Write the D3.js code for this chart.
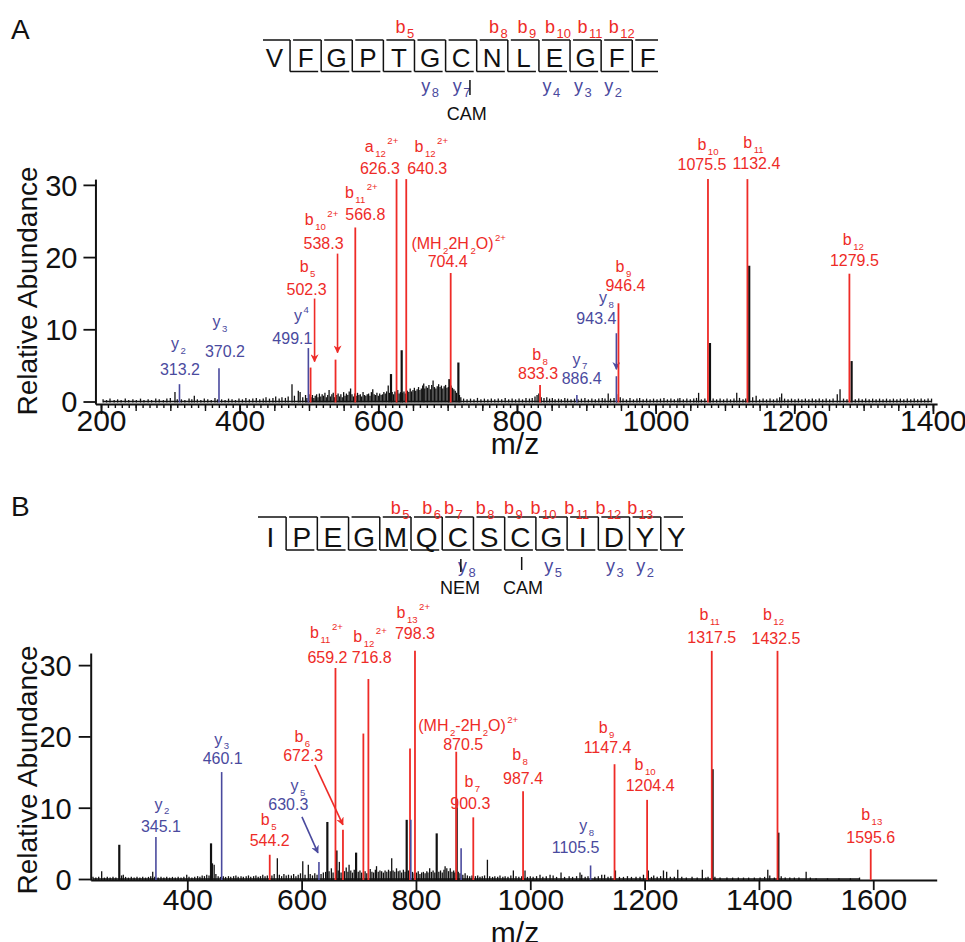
<!DOCTYPE html>
<html><head><meta charset="utf-8">
<script src="https://cdn.jsdelivr.net/npm/d3@7"></script>
<style>
body{margin:0;background:#fff}
svg{display:block}
text{font-family:"Liberation Sans",Arial,Helvetica,sans-serif}
</style></head>
<body><svg id="c" width="965" height="942"></svg>
<script>
// ---------------- DATA ----------------
const seqA = "VFGPTGCNLEGFF".split("");
const bSeqA = [5, 8, 9, 10, 11, 12];
const ySeqA = [8, 7, 4, 3, 2];
const modSeqA = [[7, "CAM"]];

const seqB = "IPEGMQCSCGIDYY".split("");
const bSeqB = [5, 6, 7, 8, 9, 10, 11, 12, 13];
const ySeqB = [8, 5, 3, 2];
const modSeqB = [[7, "NEM"], [9, "CAM"]];

const xTicksA = [200, 400, 600, 800, 1000, 1200, 1400];
const yTicksA = [0, 10, 20, 30];
const xTicksB = [400, 600, 800, 1000, 1200, 1400, 1600];
const yTicksB = [0, 10, 20, 30];

// annotated fragment ions: [label, m/z text, m/z, relative abundance at top of marker, ion series]
const annA = [
  ["y_{2}", "313.2", 313.2, 2.4, "y"],
  ["y_{3}", "370.2", 370.2, 4.6, "y"],
  ["y^{4}", "499.1", 499.1, 7.4, "y"],
  ["b_{5}", "502.3", 502.3, 4.7, "b"],
  ["b_{10}^{2+}", "538.3", 538.3, 5.8, "b"],
  ["b_{11}^{2+}", "566.8", 566.8, 24.1, "b"],
  ["a_{12}^{2+}", "626.3", 626.3, 30.8, "b"],
  ["b_{12}^{2+}", "640.3", 640.3, 30.8, "b"],
  ["(MH_{2}2H_{2}O)^{2+}", "704.4", 704.4, 17.8, "b"],
  ["b_{8}", "833.3", 833.3, 2.3, "b"],
  ["y_{7}", "886.4", 886.4, 0.9, "y"],
  ["y_{8}", "943.4", 943.4, 3.5, "y"],
  ["b_{9}", "946.4", 946.4, 13.6, "b"],
  ["b_{10}", "1075.5", 1075.5, 30.8, "b"],
  ["b_{11}", "1132.4", 1132.4, 30.8, "b"],
  ["b_{12}", "1279.5", 1279.5, 17.7, "b"]
];
const annB = [
  ["y_{2}", "345.1", 345.1, 5.9, "y"],
  ["y_{3}", "460.1", 460.1, 15.0, "y"],
  ["b_{5}", "544.2", 544.2, 3.4, "b"],
  ["y_{5}", "630.3", 630.3, 2.4, "y"],
  ["b_{11}^{2+}", "659.2", 659.2, 29.6, "b"],
  ["b_{6}", "672.3", 672.3, 6.9, "b"],
  ["", "", 708.0, 20.4, "b"],
  ["b_{12}^{2+}", "716.8", 716.8, 28.05, "b"],
  ["", "", 789.6, 18.3, "b"],
  ["", "", 791.0, 8.3, "y"],
  ["b_{13}^{2+}", "798.3", 798.3, 32.0, "b"],
  ["(MH_{2}-2H_{2}O)^{2+}", "870.5", 870.5, 17.85, "b"],
  ["", "", 879.0, 4.3, "y"],
  ["b_{7}", "900.3", 900.3, 8.65, "b"],
  ["b_{8}", "987.4", 987.4, 12.3, "b"],
  ["y_{8}", "1105.5", 1105.5, 1.9, "y"],
  ["b_{9}", "1147.4", 1147.4, 16.1, "b"],
  ["b_{10}", "1204.4", 1204.4, 11.1, "b"],
  ["b_{11}", "1317.5", 1317.5, 32.0, "b"],
  ["b_{12}", "1432.5", 1432.5, 32.0, "b"],
  ["b_{13}", "1595.6", 1595.6, 4.2, "b"]
];

// spectrum peaks [m/z, relative abundance]
const peaksA = [
[203,.3],[208,.2],[213,.4],[219,.2],[224,.3],[229,.2],[235,.4],[240,.2],[246,.3],[251,.2],[257,.4],[262,.2],[268,.3],[273,.2],[279,.4],[284,.3],[290,.2],[295,.4],[300,.5],[306.7,1.3],[310,.3],[316,.3],[321,.2],[327,.4],[331,.3],[334.6,.8],[339,.3],[344,.2],[349,.4],[354,.3],[359,.2],[364.4,.5],[368,.3],[374,.3],[379,.2],[384,.4],[389,.3],[394,.2],[399,.4],[404,.3],[409,.5],[414,.3],[419,.4],[424,.5],[429,.3],[434,.4],[438,.6],[443,.4],[448,.5],[452,.7],[457,.4],[461,.6],[466,.5],[470,.7],[475.5,2.4],[479,.8],[484.6,1.5],[487.2,1.3],[491,.6],[495,.9],[497,.5],
[500,1.0],[503,.6],[505,.9],[507,.5],[509,.8],[511,1.0],[513,.6],[515,1.1],[517,.7],[519,1.0],[521,.8],[523,1.2],[525,.6],[527,.9],[529,1.6],[531,.7],[533,1.0],[535,1.2],[537,.6],[540,.9],[542,1.1],[544,.7],[546,1.0],[548,.6],[550,1.3],[552,.8],[554,1.1],[556,.9],[558,1.4],[560,1.8],[562,1.0],[564,.7],[566,1.1],[568,.8],[570,1.2],[572,.9],[574,1.0],[576,.7],[578,1.3],[580,.9],[582,.8],[584,1.0],[586,1.1],[588,.8],[590,1.3],[592,1.7],[594,1.0],[596,.9],[598,1.2],[600,.8],[602,1.1],[604,.9],[606,1.0],[608,1.3],[610,1.1],[612,1.4],[614.3,2.2],[616,1.2],[618.3,3.8],[620,1.3],[622,1.0],[624,1.4],[626,1.2],[628,1.6],[630,1.1],[632,1.3],[633.7,7.1],[635,1.2],[637,1.4],[639,1.1],[642,1.5],[644,1.3],[646,1.8],[648,1.4],[650,1.6],[652,1.9],[654,1.5],[656,1.7],[658,2.0],[660,1.6],[662,1.8],[664,2.2],[665.5,2.5],[667,1.8],[669,2.1],[671,1.9],[673,2.3],[675,1.7],[677,2.3],[679,2.9],[681,2.0],[683,1.8],[685,2.1],[687,2.4],[689,2.0],[691,2.2],[693,1.8],[695,2.1],[697,2.3],[699,1.9],[701,2.0],[702.5,3.1],[705,2.2],[707,1.9],[709,1.7],[711,1.5],[713,1.2],[715.5,5.4],[717,.9],[719,.6],
[723,.4],[728,.3],[733,.4],[738,.3],[743,.5],[748,.3],[753,.4],[758,.3],[763,.4],[768,.3],[773,.4],[778,.3],[783,.5],[788,.3],[793,.4],[798,.3],[803,.4],[808,.3],[813,.5],[818,.4],[822,.5],[826,.7],[829,.9],[831.5,1.1],[835,.6],[839,.5],[843,.6],[847,.4],[851,.5],[855,.3],[860,.4],[864,.3],[869,.5],[873,.4],[878,.3],[883,.4],[888,.3],[893,.4],[898,.5],[903,.3],[908,.4],[913,.3],[918,.4],[923,.5],[927,.4],[931.6,1.1],[935,.4],[940,.5],[943.8,1.0],[949,.6],[953,.4],[958,.3],[963,.5],[968,.3],[973,.4],[977,.5],[982,.3],[987,.4],[992,.3],[997,.4],[1002,.3],[1007,.4],[1012,.5],[1017,.3],[1022,.4],[1027,.3],[1032,.4],[1035,.5],[1040,.3],[1045,.4],[1050,.3],[1055,.4],[1059,.5],[1062,1.2],[1066,.3],[1071,.4],[1078.4,8.1],[1083,.4],[1088,.3],[1093,.4],[1098,.3],[1103,.4],[1108,.3],[1113,.4],[1117,1.2],[1121,.5],[1126,.3],[1130,.4],[1135,18.8],[1140,.6],[1145,.8],[1150,.3],[1155,.4],[1160,.3],[1165,.4],[1170,.3],[1175,.4],[1179,.6],[1181.8,1.1],[1186,.4],[1191,.3],[1196,.4],[1201,.3],[1206,.4],[1211,.3],[1216,.4],[1221,.3],[1226,.4],[1231,.3],[1236,.4],[1241,.3],[1246,.4],[1251,.3],[1256,.4],[1262,1.0],[1266,1.7],[1271,.4],[1276,.3],[1282.7,5.6],[1288,.3],[1293,.4],[1298,.3],[1303,.4],[1308,.3],[1313,.4],[1318,.3],[1323,.4],[1328,.3],[1333,.4],[1338,.3],[1343,.4],[1348,.3],[1353,.4],[1358,.3],[1363,.4],[1368,.3],[1373,.4],[1378,.3],[1383,.4],[1388,.3],[1393,.4],[1398,.4]
];
const peaksB = [
[235,.3],[240,.2],[245,.3],[250.2,1.1],[255,.2],[260,.3],[265,.2],[270,.3],[275,.2],[281,4.8],[285,.5],[288,.6],[292,.3],[297,.2],[302,.3],[307,.2],[312,.3],[317,.2],[322,.3],[327,.2],[332,.3],[336,.4],[339.5,1.0],[343,.3],[349,.2],[354,.3],[359,.2],[364,.3],[369,.2],[374,.3],[379,.2],[384,.3],[389,.2],[394,.3],[399,.6],[403,.3],[408,.2],[413,.3],[418,.4],[422,.3],[426,.5],[430,.4],[434,.6],[438,.5],[441.5,5.0],[444,2.2],[447,2.0],[450,.7],[454,.4],[458,.3],[463,.4],[467,.3],[472,.4],[476,.3],[481,.4],[485,.5],[489,.3],[494,.4],[498,.3],[503,.4],[507,.5],[511,.3],[516,.4],[520,.5],[524,.3],[528,.4],[532,.6],[536,.4],[540,.5],[548,.5],[552,.7],[557.5,2.9],[561,.6],[565,.4],[569,.7],[573,.5],[577,.6],[582,.5],[586,.7],[590,.4],[594,.6],[598,.8],[602,2.5],[606,.6],[611.7,2.0],[615,.7],[619,.5],[623,.8],[627,.6],[634,.7],[638,.9],[642,1.0],[645,8.0],[648,1.1],[652,1.5],[655,.9],[661,4.0],[664,1.2],[666,2.4],[669,.9],[675,1.1],[678,1.6],[681,1.0],[683,2.0],[686,1.2],[689,.9],[692,1.3],[695.3,3.7],[699,1.0],[702,1.2],[705,.9],[711,1.1],[714,.8],[720,1.4],[723,1.0],[726,.9],[729,1.3],[731,1.8],[734,1.0],[737,1.2],[740,1.1],[743,.9],[746,1.2],[749,1.0],[752,1.3],[755,1.1],[757.6,2.9],[760,1.2],[763,1.0],[766,1.5],[769,1.1],[772,1.2],[775,.9],[778,1.3],[781,1.0],[783.8,8.3],[787,1.2],[794,1.0],[797,.8],[801,.9],[804,1.1],[807,.7],[810,.9],[813,1.0],[816,.8],[819,1.1],[821,.9],[824,1.5],[827,1.0],[830,1.2],[833,.9],[836.3,6.4],[840,1.0],[843,1.2],[846,.9],[849,1.3],[851,1.8],[854,1.5],[857,1.1],[860,1.5],[863,1.0],[866,1.2],[868,.9],[871.3,11.2],[874,1.0],[877,.8],[882,.6],[886,.8],[890,.5],[894,.4],[898,.5],[904,.4],[908,.5],[912,.3],[916,.4],[920,.5],[925,2.7],[929,.4],[934,.3],[938,.4],[943,.3],[947,.5],[952,.3],[956,.4],[961,.3],[966,.5],[970.4,1.2],[975,.4],[980,.3],[985,.4],[990.8,1.2],[995,.3],[1000,.4],[1005,.3],[1011,.4],[1017,.6],[1022,.3],[1028,.4],[1034.6,.6],[1040,.5],[1046,.3],[1053.8,.9],[1060,.3],[1068,.4],[1074,.3],[1081,.4],[1087,.9],[1090,.6],[1096,.3],[1101,.4],[1113,.3],[1119,.4],[1125,.6],[1130,.6],[1136,.3],[1141,.4],[1149,1.2],[1156,.3],[1163,.3],[1170,.4],[1177,.3],[1185,.3],[1192,.3],[1198,.6],[1206.5,1.2],[1212,.3],[1216,.5],[1222,.3],[1228,.4],[1233,1.2],[1238.6,1.0],[1245,.3],[1252,.3],[1258,1.3],[1265,.3],[1273,.2],[1283,.3],[1292,.2],[1301,1.3],[1307,.2],[1311,.3],[1319,15.4],[1323,.3],[1332,.2],[1344,.2],[1354,.2],[1364,.2],[1373,.2],[1382,.2],[1392,.2],[1402,.2],[1410,.3],[1415.5,1.3],[1419,.5],[1427,.2],[1434,6.5],[1439,.4],[1446,.2],[1454,.2],[1462,.2],[1470,.2],[1482.6,1.0],[1490,.2],[1500,.1],[1520,.1],[1540,.1],[1560,.1],[1576,.2]
];

// ---------------- LAYOUT (label placement, px offsets from marker top) ----------------
// [number dx, number baseline dy, ion dx, ion baseline dy]
const labPosA = [
  [0.5,-9,-1,-35],[6,-11,1,-41],[-16,-4,-7,-27],[-4,-73,-3,-95.6],[-12,-110.6,-14,-134.6],
  [10,-7,6,-29.5],[-16.6,-5.4,-15,-27],[21,-5.4,25,-27],[-3,-6,8,-24],[-2,-5.6,0,-24.5],
  [4.8,-10.7,3,-30.5],[-20,-52,-10,-73],[7,-12.3,5,-31.5],[-6,-8.7,0,-29],[9,-9.7,6,-31],[5,-7.7,4,-28.7]
];
const arrowsA = {3:[4,-69,4,-6], 4:[2,-106,2,-7], 11:[0,-43,0,-7]};
const labPosB = [
  [5,-5,6,-27.4],[1,-7.7,0,-27.5],[0,-8.8,-1,-29.8],[-30.6,-52,-21,-71],[-8,-5.3,-9,-29.7],
  [-39.7,-68.8,-40.7,-87.5],null,[3.3,-16.3,1.6,-37.3],null,null,[0,-11.5,-1.7,-32.5],
  [7,-2,12,-21],null,[-3,-8.3,-1,-30],[0,-7,-3,-31],[-15,-12,-4,-34.5],[-7,-11.5,-8,-31],
  [3,-9,-2,-30],[0,-7.5,-2,-31],[-1.5,-6.5,-4,-31],[0,-6.3,1,-29]
];
const arrowsB = {3:[-17,-45,-1,-9], 5:[-28,-65,0,-5]};

const RED = "#ee2b27", BLUE = "#4a4a9e", INK = "#111";
const svg = d3.select("#c");

svg.append("defs").selectAll("marker").data([["arrR",RED],["arrB",BLUE]]).join("marker")
  .attr("id", d => d[0]).attr("viewBox", "0 0 10 10").attr("refX", 9).attr("refY", 5)
  .attr("markerWidth", 5).attr("markerHeight", 5).attr("markerUnits","strokeWidth").attr("orient", "auto")
  .append("path").attr("d", "M0,0 L10,5 L0,10 L3,5 Z").attr("fill", d => d[1]);

function rich(g, str, x, y, size, color, ratio) {
  ratio = ratio || 0.6;
  const t = g.append("text").attr("x", x).attr("y", y).attr("fill", color)
    .attr("font-size", size).attr("text-anchor", "middle");
  const re = /([_^])\{([^}]*)\}|([^_^]+)/g;
  let m, cur = 0;
  while ((m = re.exec(str))) {
    if (m[3] !== undefined) {
      t.append("tspan").attr("dy", -cur).text(m[3]); cur = 0;
    } else {
      const target = m[1] === "_" ? size * 0.3 : -size * 0.5;
      t.append("tspan").attr("dy", target - cur).attr("dx", 1.5)
        .attr("font-size", size * ratio).text(m[2]);
      cur = target;
    }
  }
  return t;
}

function panel(o) {
  const g = svg.append("g");
  const x = d3.scaleLinear().domain(o.xDom).range(o.xRange);
  const y = d3.scaleLinear().domain(o.yDom).range(o.yRange);
  const axisY = y(o.yDom[0]);

  // x axis
  const xa = g.append("g").attr("transform", `translate(0,${axisY})`);
  o.minor.forEach(([step, size]) => {
    const vals = d3.range(o.xTicks[0], o.xTicks[o.xTicks.length-1] + 1, step);
    xa.append("g").call(d3.axisBottom(x).tickValues(vals).tickSize(size).tickSizeOuter(0).tickFormat(""))
      .call(s => s.select(".domain").remove())
      .call(s => s.selectAll("line").attr("stroke", INK).attr("stroke-width", 1.4));
  });
  xa.append("g").call(d3.axisBottom(x).tickValues(o.xTicks).tickSize(10).tickSizeOuter(0).tickFormat(d3.format("d")))
    .call(s => s.select(".domain").attr("stroke", INK).attr("stroke-width", 2))
    .call(s => s.selectAll("line").attr("stroke", INK).attr("stroke-width", 1.8))
    .call(s => s.selectAll("text").attr("font-size", 30).attr("fill", INK).attr("y", null).attr("dy", null)
      .attr("transform", `translate(0,${o.xLabBase})`).attr("font-family", null));

  // y axis
  g.append("g").attr("transform", `translate(${x(o.xDom[0])},0)`)
    .call(d3.axisLeft(y).tickValues(o.yTicks).tickSize(12).tickSizeOuter(0).tickFormat(d3.format("d")))
    .call(s => s.select(".domain").attr("stroke", INK).attr("stroke-width", 2))
    .call(s => s.selectAll("line").attr("stroke", INK).attr("stroke-width", 1.8))
    .call(s => s.selectAll("text").attr("font-size", 29).attr("fill", INK).attr("x", o.yLabX).attr("dy", "0.36em").attr("font-family", null));

  // axis titles
  g.append("text").attr("transform", `translate(${o.yTitleX},${o.yTitleY}) rotate(-90)`)
    .attr("text-anchor", "middle").attr("font-size", 28).attr("fill", INK).text("Relative Abundance");
  g.append("text").attr("x", o.mzX).attr("y", o.mzY).attr("text-anchor", "middle")
    .attr("font-size", 30).attr("fill", INK).text("m/z");
  g.append("text").attr("x", o.tagX).attr("y", o.tagY).attr("font-size", 28).attr("fill", INK).text(o.tag);

  // spectrum
  const d0 = d3.extent(o.peaks, d => d[0]);
  g.append("line").attr("x1", x(d0[0])).attr("x2", x(d0[1])).attr("y1", y(0)).attr("y2", y(0))
    .attr("stroke", INK).attr("stroke-width", 1.4);
  g.append("g").selectAll("line").data(o.peaks).join("line")
    .attr("x1", d => x(d[0])).attr("x2", d => x(d[0]))
    .attr("y1", y(0) + 1).attr("y2", d => y(d[1]))
    .attr("stroke", INK).attr("stroke-width", d => d[1] > 3 ? 2.2 : 1.3);

  // annotations
  const ag = g.append("g");
  o.ann.forEach((a, i) => {
    const col = a[4] === "y" ? BLUE : RED;
    const lx = x(a[2]), ty = y(a[3]);
    ag.append("line").attr("x1", lx).attr("x2", lx).attr("y1", y(0) + 1).attr("y2", ty)
      .attr("stroke", col).attr("stroke-width", a[4] === "y" ? 1.6 : 1.8);
    const p = o.pos[i];
    if (p) {
      ag.append("text").attr("x", lx + p[0]).attr("y", ty + p[1]).attr("text-anchor", "middle")
        .attr("font-size", 16).attr("fill", col).text(a[1]);
      rich(ag, a[0], lx + p[2], ty + p[3], 16, col);
    }
    const ar = o.arrows[i];
    if (ar) {
      ag.append("line").attr("x1", lx + ar[0]).attr("y1", ty + ar[1]).attr("x2", lx + ar[2]).attr("y2", ty + ar[3])
        .attr("stroke", col).attr("stroke-width", 1.6)
        .attr("marker-end", `url(#${a[4] === "y" ? "arrB" : "arrR"})`);
    }
  });
}

function sequence(o) {
  const g = svg.append("g");
  const n = o.seq.length;
  const cx = d3.scaleLinear().domain([1, n]).range(o.cRange);
  const half = (cx(2) - cx(1)) / 2;
  const sep = k => cx(k) + half; // separator after residue k
  const path = d3.path();
  for (let k = 1; k <= n; k++) {
    const left = k === 1 ? o.start : sep(k - 1) + 3;
    const right = k === n ? o.end : sep(k);
    path.moveTo(left, o.yTop); path.lineTo(right, o.yTop);
    if (k < n) { path.moveTo(sep(k), o.yTop); path.lineTo(sep(k), o.yBot); }
    if (k > 1) { path.moveTo(sep(k - 1), o.yBot); path.lineTo(k === n ? o.end : sep(k) - 3, o.yBot); }
  }
  g.append("path").attr("d", path.toString()).attr("fill", "none").attr("stroke", INK).attr("stroke-width", 1.5);
  g.selectAll("text.res").data(o.seq).join("text").attr("class", "res")
    .attr("x", (d, i) => cx(i + 1)).attr("y", o.letterBase).attr("text-anchor", "middle")
    .attr("font-size", o.letterSize).attr("fill", INK).text(d => d);
  o.b.forEach((k, i) => rich(g, `b_{${k}}`, cx(k) + o.bDx[i], o.bBase, 18, RED, 0.72));
  o.y.forEach((k, i) => rich(g, `y_{${k}}`, cx(n - k + 1) + o.yDx[i], o.yBase, 18, BLUE, 0.72));
  o.mods.forEach(([k, lab], i) => {
    const m = o.modLay[i];
    g.append("line").attr("x1", cx(k) + m[0]).attr("x2", cx(k) + m[0]).attr("y1", m[1]).attr("y2", m[2])
      .attr("stroke", INK).attr("stroke-width", 1.5);
    g.append("text").attr("x", cx(k) + m[3]).attr("y", o.modBase).attr("text-anchor", "middle")
      .attr("font-size", 18).attr("fill", INK).text(lab);
  });
}

// Panel A
sequence({seq: seqA, cRange: [274.5, 647.8], start: 263, end: 658, yTop: 40, yBot: 71.5,
  letterBase: 67, letterSize: 26, b: bSeqA, bDx: [6, 6, 3.5, 3.5, 4.4, 5], bBase: 33,
  y: ySeqA, yDx: [0, 0.5, -3, -2.6, -3.7], yBase: 92, mods: modSeqA, modLay: [[8.8, 80, 95, 5.5]], modBase: 120});
panel({tag: "A", tagX: 11, tagY: 39, xDom: [192, 1406], xRange: [95.45, 937.1], yDom: [-0.35, 30.8], yRange: [404.03, 179.1],
  xTicks: xTicksA, yTicks: yTicksA, minor: [[10, 4], [50, 7]], xLabBase: 27, yLabX: -18,
  yTitleX: 37, yTitleY: 291, mzX: 515, mzY: 454, peaks: peaksA, ann: annA, pos: labPosA, arrows: arrowsA});

// Panel B
sequence({seq: seqB, cRange: [270.5, 676.4], start: 258, end: 683, yTop: 517, yBot: 550,
  letterBase: 547, letterSize: 28, b: bSeqB, bDx: [4.6, 5, -4.5, -4, -7, -8, -6, -5.6, -5], bBase: 514,
  y: ySeqB, yDx: [9, 1.5, 1, 0], yBase: 572, mods: modSeqB, modLay: [[3, 559, 572, 2.2], [1.4, 557, 570, 2.7]], modBase: 594});
panel({tag: "B", tagX: 11, tagY: 516, xDom: [231, 1711], xRange: [90.7, 936.7], yDom: [-0.15, 31.7], yRange: [880.07, 653.0],
  xTicks: xTicksB, yTicks: yTicksB, minor: [], xLabBase: 30, yLabX: -19,
  yTitleX: 37, yTitleY: 770, mzX: 515, mzY: 943, peaks: peaksB, ann: annB, pos: labPosB, arrows: arrowsB});
</script></body></html>
